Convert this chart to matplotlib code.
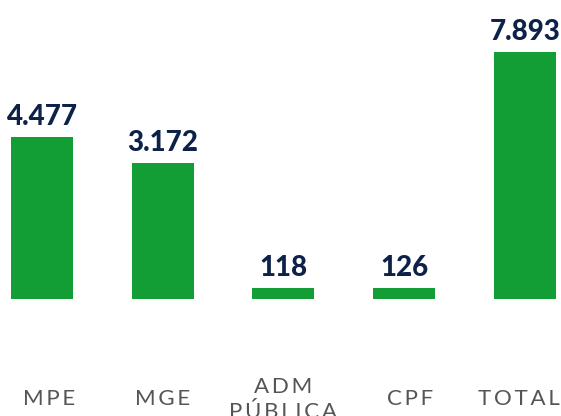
import matplotlib
matplotlib.use("Agg")
import matplotlib.pyplot as plt
from matplotlib.transforms import blended_transform_factory

# categorias e valores exibidos
categorias = ["MPE", "MGE", "ADM\nPÚBLICA", "CPF", "TOTAL"]
valores = [4477, 3172, 118, 126, 7893]
rotulos = ["4.477", "3.172", "118", "126", "7.893"]
# o infográfico não está em escala: alturas (unidades do TOTAL)
alturas = [5177, 4346, 351, 351, 7893]

verde = "#129d35"
azul = "#0e2249"
cinza = "#555555"


def espacar(texto):
    # simula o espaçamento entre letras dos rótulos
    return "\n".join("\u2009".join(linha) for linha in texto.split("\n"))


def main():
    fig = plt.figure(figsize=(5.61, 4.16), dpi=100)
    ax = fig.add_axes([0, 0, 1, 1])
    ax.set_axis_off()

    xs = list(range(len(categorias)))
    ax.bar(xs, alturas, width=0.514, color=verde)
    ax.set_xlim(-0.348, 4.30)
    ax.set_ylim(-3739, 9555)

    for x, h, r in zip(xs, alturas, rotulos):
        ax.annotate(r, (x, h), xytext=(0, 8.5), textcoords="offset points",
                    ha="center", va="baseline", fontsize=20,
                    family="Lato", fontweight="black", color=azul)

    # pequenos deslocamentos horizontais dos rótulos (pontos)
    desloc = [5, 0, 0, 4, -4.5]
    trans = blended_transform_factory(ax.transData, ax.transAxes)
    for x, c, d in zip(xs, categorias, desloc):
        ax.annotate(espacar(c), (x, 0.040), xycoords=trans,
                    xytext=(d, 0), textcoords="offset points",
                    ha="center", va="center", fontsize=16,
                    family=["Lato", "DejaVu Sans"], color=cinza,
                    linespacing=1.3, multialignment="center")

    fig.savefig("out.png", dpi=100)


if __name__ == "__main__":
    main()
